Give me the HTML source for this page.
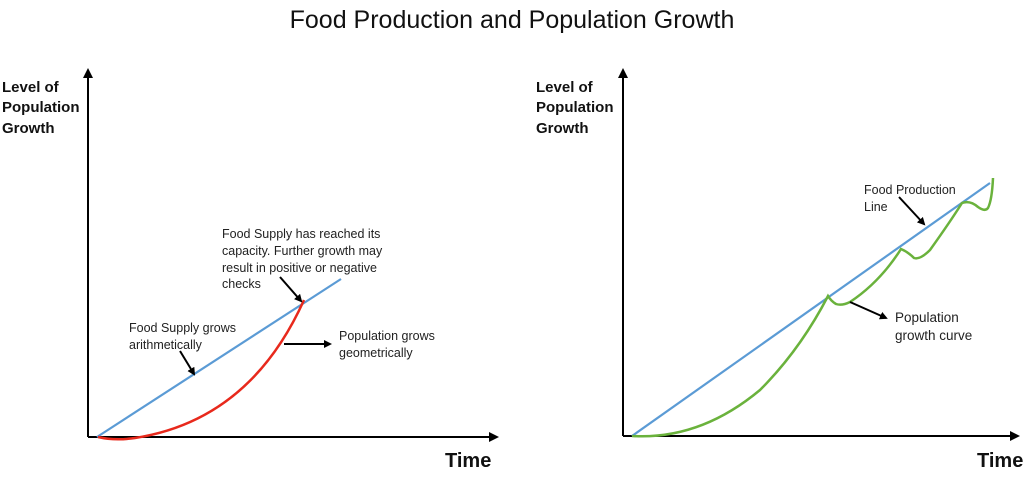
<!DOCTYPE html>
<html><head><style>
body{margin:0;background:#fff;}
svg text{font-family:"Liberation Sans",sans-serif;}
</style></head><body>
<svg width="1024" height="472" viewBox="0 0 1024 472" xmlns="http://www.w3.org/2000/svg">
<defs>
<marker id="ah" markerWidth="8" markerHeight="8" refX="6" refY="4" orient="auto" markerUnits="userSpaceOnUse">
<path d="M0,0 L8,4 L0,8 z" fill="#000"/></marker>
<marker id="ax" markerWidth="10" markerHeight="10" refX="8" refY="5" orient="auto" markerUnits="userSpaceOnUse">
<path d="M0,0 L10,5 L0,10 z" fill="#000"/></marker>
</defs>
<text x="512" y="28" font-size="25" text-anchor="middle" fill="#111">Food Production and Population Growth</text>
<line x1="88" y1="437" x2="88" y2="70" stroke="#000" stroke-width="2" marker-end="url(#ax)"/>
<line x1="88" y1="437" x2="497" y2="437" stroke="#000" stroke-width="2" marker-end="url(#ax)"/>
<g font-weight="bold" font-size="15" fill="#111">
<text x="2" y="92">Level of</text><text x="2" y="112">Population</text><text x="2" y="133">Growth</text>
<text x="536" y="92">Level of</text><text x="536" y="112">Population</text><text x="536" y="133">Growth</text>
</g>
<text x="445" y="467" font-weight="bold" font-size="20" fill="#111">Time</text>
<line x1="97" y1="437" x2="341" y2="279" stroke="#5b9bd5" stroke-width="2.2"/>
<path d="M98,437 Q115,441 135,438 Q250,420 304,300" fill="none" stroke="#e8291c" stroke-width="2.5"/>
<g font-size="12.5" fill="#222">
<text x="222" y="238">Food Supply has reached its</text>
<text x="222" y="255">capacity. Further growth may</text>
<text x="222" y="272">result in positive or negative</text>
<text x="222" y="288">checks</text>
<text x="129" y="332">Food Supply grows</text>
<text x="129" y="349">arithmetically</text>
<text x="339" y="340">Population grows</text>
<text x="339" y="357">geometrically</text>
</g>
<line x1="280" y1="277" x2="301" y2="301" stroke="#000" stroke-width="2" marker-end="url(#ah)"/>
<line x1="180" y1="351" x2="194" y2="374" stroke="#000" stroke-width="2" marker-end="url(#ah)"/>
<line x1="284" y1="344" x2="330" y2="344" stroke="#000" stroke-width="2" marker-end="url(#ah)"/>
<line x1="623" y1="436" x2="623" y2="70" stroke="#000" stroke-width="2" marker-end="url(#ax)"/>
<line x1="623" y1="436" x2="1018" y2="436" stroke="#000" stroke-width="2" marker-end="url(#ax)"/>
<text x="977" y="467" font-weight="bold" font-size="20" fill="#111">Time</text>
<line x1="632" y1="436" x2="990" y2="183" stroke="#5b9bd5" stroke-width="2.2"/>
<path d="M632,436 Q700,440 760,390 Q800,350 828,296 Q831,301 836,304 Q842,306 850,302 Q880,282 901,249 Q908,252 914,258 Q920,260 930,250 Q950,222 962,203 Q970,200 978,207 Q985,212 988,208 Q992,200 993,178" fill="none" stroke="#6ab23c" stroke-width="2.5"/>
<g font-size="12.5" fill="#222">
<text x="864" y="194">Food Production</text>
<text x="864" y="211">Line</text>
</g>
<g font-size="13.5" fill="#222">
<text x="895" y="322">Population</text>
<text x="895" y="340">growth curve</text>
</g>
<line x1="899" y1="197" x2="924" y2="224" stroke="#000" stroke-width="2" marker-end="url(#ah)"/>
<line x1="850" y1="302" x2="886" y2="318" stroke="#000" stroke-width="2" marker-end="url(#ah)"/>
</svg>
</body></html>
